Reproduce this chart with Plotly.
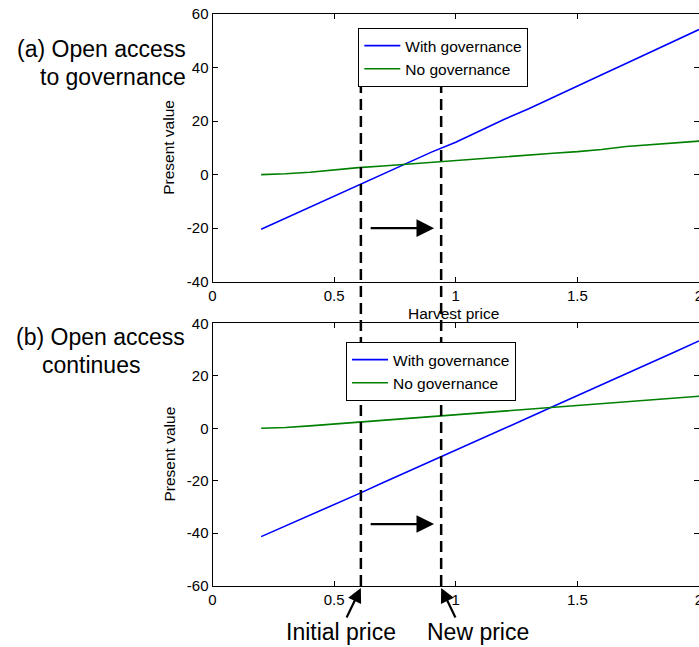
import plotly.graph_objects as go

W, H = 699, 647

# ---------------- data ----------------
price = [0.2, 0.3, 0.4, 0.5, 0.6, 0.7, 0.8, 0.9, 1.0, 1.1,
         1.2, 1.3, 1.4, 1.5, 1.6, 1.7, 1.8, 1.9, 2.0]

a_with_gov = [-20.4, -16.3, -12.4, -8.0, -4.0, 0.2, 4.3, 8.4, 12.1, 16.5,
              20.7, 24.6, 28.9, 33.1, 37.3, 41.5, 45.7, 49.8, 54.2]
a_no_gov = [0.0, 0.3, 0.9, 1.8, 2.6, 3.2, 3.9, 4.6, 5.4, 6.0,
            6.7, 7.3, 8.0, 8.6, 9.4, 10.5, 11.2, 11.9, 12.5]

b_with_gov = [-41.3, -37.3, -33.2, -29.0, -25.0, -20.8, -16.7, -12.4, -8.3, -4.2,
              0.0, 4.1, 8.3, 12.4, 16.8, 20.8, 25.0, 29.1, 33.3]
b_no_gov = [0.0, 0.3, 0.9, 1.6, 2.3, 3.0, 3.7, 4.4, 5.1, 5.7,
            6.6, 7.3, 8.0, 8.6, 9.3, 10.0, 10.7, 11.5, 12.2]

initial_price = 0.61
new_price = 0.94
arrow_a = (0.644, 0.911, -20.0)
arrow_b = (0.644, 0.911, -36.5)

x_ticks = [0, 0.5, 1, 1.5, 2]
x_tick_text = ["0", "0.5", "1", "1.5", "2"]
a_y_ticks = [-40, -20, 0, 20, 40, 60]
a_y_tick_text = ["-40", "-20", "0", "20", "40", "60"]
b_y_ticks = [-60, -40, -20, 0, 20, 40]
b_y_tick_text = ["-60", "-40", "-20", "0", "20", "40"]

BLUE = "#0000FF"
GREEN = "#008000"
FONT = "Liberation Sans, Arial, sans-serif"

def px_x(p):
    return p / W

def px_y(p):
    return 1 - p / H

fig = go.Figure()
fig.add_trace(go.Scatter(x=price, y=a_with_gov, mode="lines", name="With governance",
                         line=dict(color=BLUE, width=1.6), xaxis="x", yaxis="y", legend="legend"))
fig.add_trace(go.Scatter(x=price, y=a_no_gov, mode="lines", name="No governance",
                         line=dict(color=GREEN, width=1.6), xaxis="x", yaxis="y", legend="legend"))
fig.add_trace(go.Scatter(x=price, y=b_with_gov, mode="lines", name="With governance",
                         line=dict(color=BLUE, width=1.6), xaxis="x2", yaxis="y2", legend="legend2"))
fig.add_trace(go.Scatter(x=price, y=b_no_gov, mode="lines", name="No governance",
                         line=dict(color=GREEN, width=1.6), xaxis="x2", yaxis="y2", legend="legend2"))

x_dom = [px_x(212.5), 1.0]
ax_common = dict(showline=True, linecolor="black", linewidth=1, mirror="ticks",
                 ticks="inside", ticklen=5, tickcolor="black", tickwidth=1,
                 showgrid=False, zeroline=False, automargin=False,
                 ticklabeloverflow="allow",
                 tickfont=dict(family=FONT, size=15, color="black"))

legend_common = dict(xanchor="left", yanchor="top", bgcolor="white",
                     bordercolor="black", borderwidth=1, itemwidth=36,
                     font=dict(family=FONT, size=15.5, color="black"), tracegroupgap=0)

fig.update_layout(
    template="none",
    width=W, height=H,
    margin=dict(l=0, r=0, t=0, b=0, autoexpand=False),
    paper_bgcolor="white", plot_bgcolor="white",
    font=dict(family=FONT, color="black"),
    xaxis=dict(domain=x_dom, range=[0, 2], anchor="y", tickvals=x_ticks,
               ticktext=x_tick_text, **ax_common),
    yaxis=dict(domain=[px_y(281.7), px_y(14)], range=[-40, 60], anchor="x",
               tickvals=a_y_ticks, ticktext=a_y_tick_text, **ax_common),
    xaxis2=dict(domain=x_dom, range=[0, 2], anchor="y2", tickvals=x_ticks,
                ticktext=x_tick_text, **ax_common),
    yaxis2=dict(domain=[px_y(585.7), px_y(323.3)], range=[-60, 40], anchor="x2",
                tickvals=b_y_ticks, ticktext=b_y_tick_text, **ax_common),
    legend=dict(x=px_x(358.3), y=px_y(28), **legend_common),
    legend2=dict(x=px_x(346), y=px_y(342), **legend_common),
    showlegend=True,
)

# dashed vertical price lines across both panels
for xp in (initial_price, new_price):
    fig.add_shape(type="line", xref="x", yref="paper", x0=xp, x1=xp,
                  y0=px_y(586), y1=px_y(83),
                  line=dict(color="black", width=2.5, dash="11px,6px"), layer="above")

anns = []
# horizontal arrows
anns.append(dict(x=arrow_a[1], y=arrow_a[2], ax=arrow_a[0], ay=arrow_a[2],
                 xref="x", yref="y", axref="x", ayref="y", text="",
                 showarrow=True, arrowhead=2, arrowsize=1.6, arrowwidth=2.2, arrowcolor="black"))
anns.append(dict(x=arrow_b[1], y=arrow_b[2], ax=arrow_b[0], ay=arrow_b[2],
                 xref="x2", yref="y2", axref="x2", ayref="y2", text="",
                 showarrow=True, arrowhead=2, arrowsize=1.6, arrowwidth=2.2, arrowcolor="black"))
# diagonal pointer arrows
anns.append(dict(x=initial_price, y=px_y(588), xref="x2", yref="paper", ax=-15, ay=31,
                 text="", showarrow=True, arrowhead=2, arrowsize=1.3, arrowwidth=2.2,
                 arrowcolor="black"))
anns.append(dict(x=new_price, y=px_y(588), xref="x2", yref="paper", ax=15, ay=31,
                 text="", showarrow=True, arrowhead=2, arrowsize=1.3, arrowwidth=2.2,
                 arrowcolor="black"))
# price labels
anns.append(dict(x=px_x(340.8), y=px_y(631.7), xref="paper", yref="paper", text="Initial price",
                 showarrow=False, xanchor="center", yanchor="middle",
                 font=dict(family=FONT, size=23, color="black")))
anns.append(dict(x=px_x(477.5), y=px_y(631.7), xref="paper", yref="paper", text="New price",
                 showarrow=False, xanchor="center", yanchor="middle",
                 font=dict(family=FONT, size=23, color="black")))
# panel labels
for txt, xr, yc, anc in [("(a) Open access", 187.5, 49.3, "right"),
                         ("to governance", 188.3, 77.3, "right"),
                         ("(b) Open access", 186.7, 336.7, "right"),
                         ("continues", 91.0, 365.0, "center")]:
    anns.append(dict(x=px_x(xr), y=px_y(yc), xref="paper", yref="paper", text=txt,
                     showarrow=False, xanchor=anc, yanchor="middle",
                     font=dict(family=FONT, size=23, color="black")))
# axis titles
for yc in ((14 + 281.7) / 2, (323.3 + 585.7) / 2):
    anns.append(dict(x=px_x(169), y=px_y(yc), xref="paper", yref="paper", text="Present value",
                     textangle=-90, showarrow=False, xanchor="center", yanchor="middle",
                     font=dict(family=FONT, size=15.5, color="black")))
anns.append(dict(x=px_x(454), y=px_y(313), xref="paper", yref="paper", text="Harvest price",
                 showarrow=False, xanchor="center", yanchor="middle",
                 font=dict(family=FONT, size=15.5, color="black")))

fig.update_layout(annotations=anns)

fig.write_html("out.html",
               config={"displayModeBar": False},
               post_script="document.body.style.margin='0px';document.body.style.overflow='hidden';")
